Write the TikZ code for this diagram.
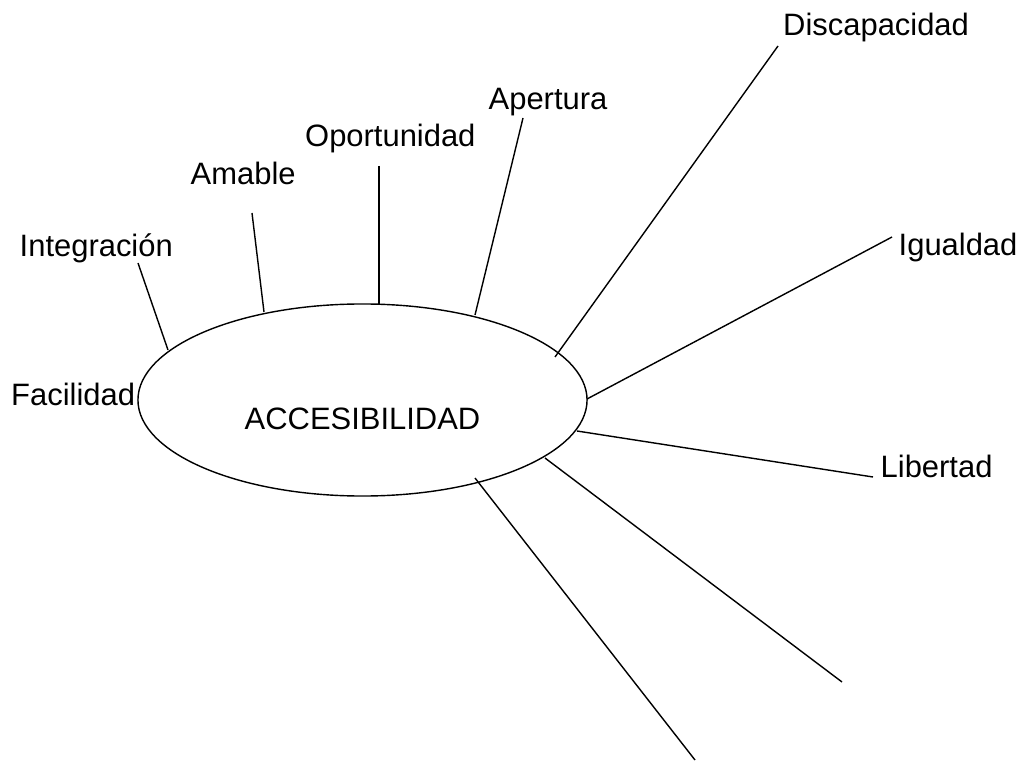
\documentclass[tikz,border=0pt]{standalone}
\usepackage{fontspec}
\setmainfont{Liberation Sans}
\usetikzlibrary{shapes.geometric}

\begin{document}
\begin{tikzpicture}[x=0.025cm, y=-0.025cm, line width=1pt,
    word/.style={anchor=base west, inner sep=0pt, font=\fontsize{22}{26}\selectfont}]%
    \useasboundingbox (0,0) rectangle (1026,761);
    \node (acc) [draw, ellipse, inner sep=0pt, minimum width=11.225cm, minimum height=4.8cm] at (362.5,400) {};
    \node (acctxt) [word, anchor=base] at (362.5,429) {ACCESIBILIDAD};
    \node (fac) [word] at (10.5,405) {Facilidad};
    \node (int) [word] at (19,257) {Integración};
    \node (ama) [word] at (190,185) {Amable};
    \node (opo) [word] at (304.5,147) {Oportunidad};
    \node (ape) [word] at (488,110) {Apertura};
    \node (dis) [word] at (782.5,36) {Discapacidad};
    \node (igu) [word] at (898,256) {Igualdad};
    \node (lib) [word] at (880,477) {Libertad};
    % line ends
    \coordinate (int-t) at (138,263);  \coordinate (int-e) at (168,350);
    \coordinate (ama-t) at (252,213);  \coordinate (ama-e) at (264,312);
    \coordinate (opo-t) at (379,166);  \coordinate (opo-e) at (379,304);
    \coordinate (ape-t) at (523,118);  \coordinate (ape-e) at (475,315);
    \coordinate (dis-t) at (778,46);   \coordinate (dis-e) at (555,357);
    \coordinate (igu-t) at (892,237);  \coordinate (igu-e) at (587,399);
    \coordinate (lib-t) at (873,477);  \coordinate (lib-e) at (577,431);
    \coordinate (one-t) at (842,682);  \coordinate (one-e) at (545,458);
    \coordinate (two-t) at (695,760);  \coordinate (two-e) at (475,478);
    \draw (int-t) -- (int-e);
    \draw (ama-t) -- (ama-e);
    \draw (opo-t) -- (opo-e);
    \draw (ape-t) -- (ape-e);
    \draw (dis-t) -- (dis-e);
    \draw (igu-t) -- (igu-e);
    \draw (lib-t) -- (lib-e);
    \draw (one-t) -- (one-e);
    \draw (two-t) -- (two-e);
\end{tikzpicture}
\end{document}
